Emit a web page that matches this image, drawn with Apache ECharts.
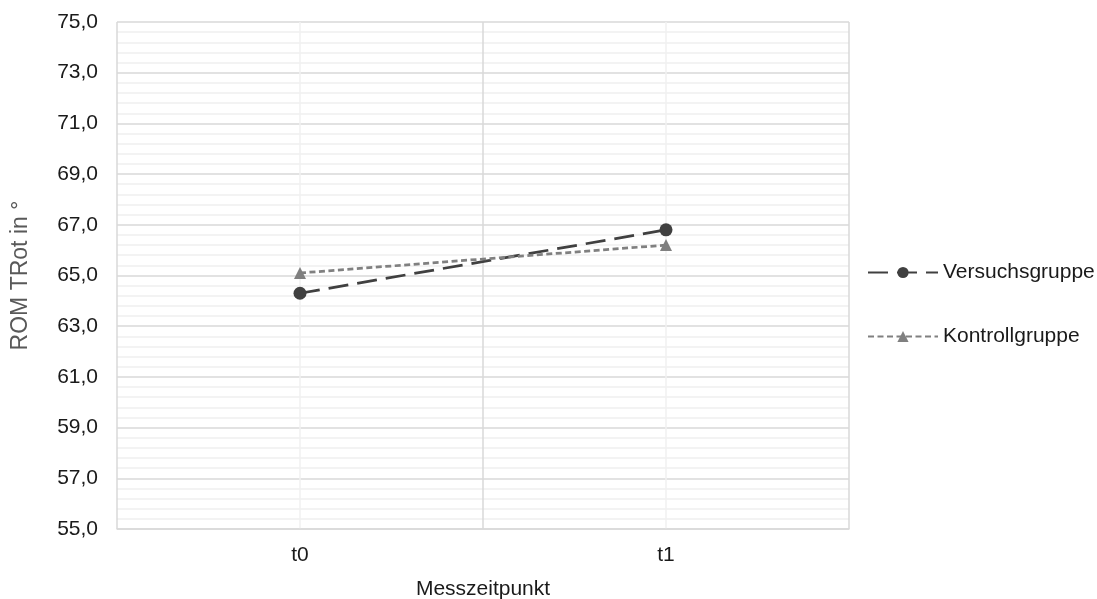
<!DOCTYPE html>
<html>
<head>
<meta charset="utf-8">
<script src="https://cdn.jsdelivr.net/npm/echarts@6/dist/echarts.min.js"></script>
<style>
  html, body { margin: 0; padding: 0; background: #fff; }
  #chart { width: 1097px; height: 599px; }
</style>
</head>
<body>
<div id="chart"></div>
<script>
// Messzeitpunkte und Mittelwerte
const categories = ['t0', 't1'];
const versuchsgruppe = [64.3, 66.8];
const kontrollgruppe = [65.1, 66.2];
const yMin = 55, yMax = 75, yStep = 2;

const font = 'Liberation Sans, Arial, sans-serif';

const chart = echarts.init(document.getElementById('chart'));
chart.setOption({
    animation: false,
    grid: { left: 117, right: 248, top: 22, bottom: 70, outerBoundsMode: 'none' },
    legend: {
        orient: 'vertical',
        left: 862,
        top: 257,
        itemGap: 43,
        itemWidth: 70,
        itemHeight: 14,
        textStyle: { fontFamily: font, fontSize: 21, color: '#1a1a1a' },
        data: ['Versuchsgruppe', 'Kontrollgruppe']
    },
    xAxis: [{
        type: 'category',
        data: categories,
        boundaryGap: true,
        name: 'Messzeitpunkt',
        nameLocation: 'middle',
        nameGap: 50,
        nameTextStyle: { fontFamily: font, fontSize: 21, color: '#1a1a1a' },
        axisLine: { lineStyle: { color: '#d9d9d9', width: 1.5 } },
        axisTick: { show: false },
        axisLabel: { fontFamily: font, fontSize: 21, color: '#1a1a1a', margin: 16 },
        splitLine: { show: false }
    }, {
        // nur fuer die senkrechten Gitterlinien
        type: 'value',
        min: 0, max: 4, interval: 1,
        position: 'bottom',
        axisLine: { show: false },
        axisTick: { show: false },
        axisLabel: { show: false },
        splitLine: { show: true, lineStyle: { color: ['#d9d9d9', '#f0f0f0'], width: 1.5 } }
    }],
    yAxis: {
        type: 'value',
        min: yMin, max: yMax, interval: yStep,
        name: 'ROM TRot in °',
        nameLocation: 'middle',
        nameGap: 85,
        nameTextStyle: { fontFamily: font, fontSize: 23, color: '#595959' },
        axisLine: { show: false },
        axisTick: { show: false },
        axisLabel: {
            fontFamily: font, fontSize: 21, color: '#1a1a1a', margin: 19,
            formatter: v => v.toFixed(1).replace('.', ',')
        },
        splitLine: { lineStyle: { color: '#d9d9d9', width: 1.5 } },
        minorTick: { show: false, splitNumber: 5 },
        minorSplitLine: { show: true, lineStyle: { color: '#f0f0f0', width: 1.5 } }
    },
    series: [{
        name: 'Versuchsgruppe',
        type: 'line',
        data: versuchsgruppe,
        symbol: 'circle',
        symbolSize: 13,
        itemStyle: { color: '#404040' },
        lineStyle: { color: '#404040', width: 2.75, type: [20, 9] }
    }, {
        name: 'Kontrollgruppe',
        type: 'line',
        data: kontrollgruppe,
        symbol: 'triangle',
        symbolSize: 12,
        itemStyle: { color: '#808080' },
        lineStyle: { color: '#808080', width: 2.75, type: [6, 3.5] }
    }]
});
</script>
</body>
</html>
